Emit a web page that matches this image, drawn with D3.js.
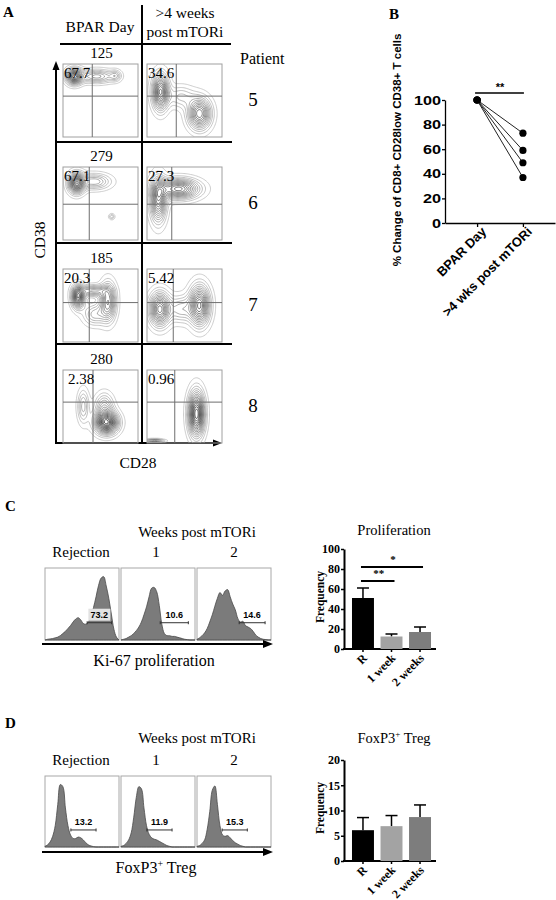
<!DOCTYPE html>
<html><head><meta charset="utf-8">
<script src="https://cdn.jsdelivr.net/npm/d3@7"></script>
<style>
body{margin:0;background:#fff;}
svg{display:block;}
</style></head><body>
<svg id="c" width="556" height="900"></svg>
<script>
// ---------------- DATA ----------------
// Panel A
const patients = ["5","6","7","8"];
const eventCounts = ["125","279","185","280"];
const bparPct = ["67.7","67.1","20.3","2.38"];
const postPct = ["34.6","27.3","5.42","0.96"];
// quadrant gates (fraction of CD28 axis / CD38 axis from top) per row: [BPAR, post]
const quadX = [[0.39,0.39],[0.35,0.33],[0.35,0.35],[0.40,0.37]];
const quadY = [0.44,0.51,0.46,0.44];
// density blobs [cx, cy(from top), sx, sy, weight]
const blobsBpar = [
  [[0.15,0.17,0.07,0.07,1.1],[0.45,0.17,0.15,0.06,0.55],[0.70,0.16,0.05,0.05,0.3]],
  [[0.18,0.22,0.07,0.09,1.1],[0.42,0.20,0.14,0.07,0.5],[0.65,0.68,0.025,0.025,0.28]],
  [[0.20,0.38,0.055,0.10,1.1],[0.60,0.45,0.07,0.17,0.8],[0.40,0.30,0.12,0.05,0.6],[0.42,0.62,0.10,0.10,0.4]],
  [[0.27,0.50,0.05,0.15,0.4],[0.58,0.72,0.10,0.10,1.3],[0.55,0.50,0.08,0.12,0.45]]
];
const blobsPost = [
  [[0.18,0.38,0.07,0.16,1.05],[0.70,0.68,0.10,0.14,0.95],[0.45,0.45,0.12,0.10,0.3]],
  [[0.42,0.30,0.18,0.09,1.0],[0.15,0.45,0.07,0.20,0.9]],
  [[0.17,0.55,0.09,0.15,1.0],[0.70,0.50,0.09,0.18,1.05],[0.45,0.55,0.10,0.12,0.4]],
  [[0.66,0.60,0.07,0.20,1.25],[0.10,0.97,0.08,0.015,0.7]]
];
// Panel B
const bCats = ["BPAR Day", ">4 wks post mTORi"];
const bBpar = [100,100,100,100];
const bPost = [73,59,49,37];
const bTicks = [0,20,40,60,80,100];
// Panel C / D histograms (relative cell counts along the fluorescence axis)
const histLabels = ["Rejection","1","2"];
const kiGateVals = ["73.2","10.6","14.6"];
const kiGates = [[0.57,0.90],[0.53,0.91],[0.57,0.92]];
const kiHist = [
  [0,0.01,0.015,0.02,0.03,0.04,0.06,0.09,0.12,0.16,0.2,0.25,0.29,0.31,0.28,0.23,0.22,0.25,0.32,0.45,0.6,0.76,0.86,0.88,0.75,0.58,0.36,0.15,0.04,0],
  [0,0.01,0.02,0.04,0.06,0.09,0.13,0.18,0.25,0.35,0.46,0.6,0.72,0.73,0.67,0.48,0.22,0.09,0.06,0.06,0.05,0.05,0.04,0.03,0.02,0.01,0.005,0,0,0],
  [0.01,0.03,0.06,0.1,0.16,0.25,0.35,0.47,0.58,0.66,0.62,0.68,0.7,0.6,0.5,0.42,0.3,0.25,0.26,0.2,0.18,0.16,0.12,0.07,0.04,0.02,0.01,0.005,0,0]
];
const foxGateVals = ["13.2","11.9","15.3"];
const foxGates = [[0.35,0.69],[0.35,0.69],[0.34,0.68]];
const foxHist = [
  [0.01,0.03,0.07,0.15,0.3,0.6,0.88,0.85,0.55,0.3,0.17,0.12,0.12,0.14,0.13,0.1,0.06,0.03,0.015,0.005,0,0,0,0,0,0,0,0,0,0],
  [0.01,0.02,0.05,0.1,0.2,0.42,0.7,0.85,0.82,0.55,0.3,0.18,0.13,0.11,0.1,0.08,0.06,0.04,0.02,0.01,0,0,0,0,0,0,0,0,0,0],
  [0.01,0.02,0.05,0.1,0.25,0.5,0.8,0.86,0.6,0.3,0.17,0.15,0.16,0.13,0.09,0.06,0.04,0.02,0.01,0,0,0,0,0,0,0,0,0,0,0]
];
// Bar charts
const barCats = ["R","1 week","2 weeks"];
const prolMean = [51,12.5,17];
const prolSem = [10,2.5,5];
const prolTicks = [0,20,40,60,80,100];
const foxMean = [6.1,6.9,8.7];
const foxSem = [2.5,2.1,2.4];
const foxTicks = [0,5,10,15,20];
const barColors = ["#000000","#a3a3a3","#7d7d7d"];

// ---------------- DRAW ----------------
const svg = d3.select("#c");
const SERIF = '"Liberation Serif","Times New Roman",serif';
const SANS = '"Liberation Sans",Arial,sans-serif';
function txt(g,x,y,s,size,opt={}){
  return g.append("text").attr("x",x).attr("y",y).text(s)
    .attr("font-family",opt.fam||SERIF).attr("font-size",size)
    .attr("font-weight",opt.w||"normal").attr("text-anchor",opt.a||"start")
    .attr("fill",opt.fill||"#000");
}
function arrowHead(g,x,y,dir,len=9,half=3.5){
  let pts;
  if(dir==="up") pts=[[x,y],[x-half,y+len],[x+half,y+len]];
  else pts=[[x,y],[x-len,y-half],[x-len,y+half]];
  g.append("path").attr("d",d3.line()(pts)+"Z").attr("fill","#000");
}

// panel letters
txt(svg,3,17,"A",15,{w:"bold"});
txt(svg,389,19,"B",15,{w:"bold"});
txt(svg,5,511,"C",15,{w:"bold"});
txt(svg,5,728,"D",15,{w:"bold"});

// ===== Panel A =====
const A = svg.append("g");
txt(A,100,32,"BPAR Day",15.5,{a:"middle"});
txt(A,185,18,">4 weeks",15.5,{a:"middle"});
txt(A,185,37,"post mTORi",15.5,{a:"middle"});
txt(A,240,64,"Patient",16);
A.append("line").attr("x1",60).attr("x2",231).attr("y1",44).attr("y2",44).attr("stroke","#000").attr("stroke-width",2);
[142,243,344].forEach(y=>A.append("line").attr("x1",57).attr("x2",232).attr("y1",y).attr("y2",y).attr("stroke","#000").attr("stroke-width",2));
A.append("line").attr("x1",142).attr("x2",142).attr("y1",5).attr("y2",443).attr("stroke","#000").attr("stroke-width",2);
// axes arrows
A.append("line").attr("x1",56).attr("x2",56).attr("y1",70).attr("y2",444).attr("stroke","#000").attr("stroke-width",2);
arrowHead(A,56,61,"up");
A.append("line").attr("x1",55).attr("x2",214).attr("y1",443).attr("y2",443).attr("stroke","#000").attr("stroke-width",2);
arrowHead(A,222,443,"right");
txt(A,138,468,"CD28",15.5,{a:"middle"});
A.append("text").attr("transform","translate(45,240) rotate(-90)").attr("text-anchor","middle")
  .attr("font-family",SERIF).attr("font-size",15.5).text("CD38");

const boxTops = [64,167,269,370];
const boxH = 73, boxW = 75;
const colX = [63,147];
const nGrid = 64;
const levels = d3.range(0.06,1.35,0.075);
const lvlColor = d3.scaleLinear().domain([0.06,0.6,1.3]).range(["#b8b8b8","#6a6a6a","#151515"]);
let clipId=0;
function contourPanel(g,x0,y0,w,h,bl,qx,qy){
  const vals = new Float64Array(nGrid*nGrid);
  for(let j=0;j<nGrid;j++)for(let i=0;i<nGrid;i++){
    const px=(i+0.5)/nGrid, py=(j+0.5)/nGrid; let v=0;
    for(const [cx,cy,sx,sy,wt] of bl) v+=wt*Math.exp(-((px-cx)**2/(2*sx*sx)+(py-cy)**2/(2*sy*sy)));
    vals[j*nGrid+i]=v;
  }
  const cs = d3.contours().size([nGrid,nGrid]).thresholds(levels)(vals);
  const id="clp"+(clipId++);
  g.append("clipPath").attr("id",id).append("rect").attr("x",x0).attr("y",y0).attr("width",w).attr("height",h);
  const cg = g.append("g").attr("clip-path",`url(#${id})`)
    .append("g").attr("transform",`translate(${x0},${y0}) scale(${w/nGrid},${h/nGrid})`);
  cg.selectAll("path").data(cs).join("path").attr("d",d3.geoPath())
    .attr("fill","none").attr("stroke",d=>lvlColor(d.value)).attr("stroke-width",0.7)
    .attr("vector-effect","non-scaling-stroke");
  g.append("rect").attr("x",x0).attr("y",y0).attr("width",w).attr("height",h)
    .attr("fill","none").attr("stroke","#a0a0a0").attr("stroke-width",1);
  const sx=d3.scaleLinear([0,1],[x0,x0+w]), sy=d3.scaleLinear([0,1],[y0,y0+h]);
  g.append("line").attr("x1",sx(qx)).attr("x2",sx(qx)).attr("y1",y0).attr("y2",y0+h).attr("stroke","#6e6e6e").attr("stroke-width",1);
  g.append("line").attr("x1",x0).attr("x2",x0+w).attr("y1",sy(qy)).attr("y2",sy(qy)).attr("stroke","#6e6e6e").attr("stroke-width",1);
}
patients.forEach((p,r)=>{
  const y0=boxTops[r];
  contourPanel(A,colX[0],y0,boxW,boxH,blobsBpar[r],quadX[r][0],quadY[r]);
  contourPanel(A,colX[1],y0,boxW,boxH,blobsPost[r],quadX[r][1],quadY[r]);
  txt(A,colX[0]+boxW/2+1,y0-6,eventCounts[r],15,{a:"middle"});
  txt(A,colX[0]+(r===3?5:1),y0+14,bparPct[r],15);
  txt(A,colX[1]+1,y0+14,postPct[r],15);
  txt(A,253,y0+boxH/2+5,p,19,{a:"middle"});
});

// ===== Panel B =====
const B = svg.append("g");
const yB = d3.scaleLinear([0,100],[223,100]);
const xB = d3.scalePoint(bCats,[445,555]).padding(0.7);
const axB = B.append("g").attr("transform","translate(445,0)")
  .call(d3.axisLeft(yB).tickValues(bTicks).tickSize(3).tickPadding(2).tickSizeOuter(0));
axB.select(".domain").attr("stroke-width",1.3);
axB.selectAll(".tick line").attr("stroke-width",1.3);
axB.selectAll("text").attr("font-family",SANS).attr("font-weight","bold").attr("font-size",12.5)
  .attr("x",-4/1.3).attr("transform","scale(1.3,1)");
const axBx = B.append("g").attr("transform","translate(0,223)")
  .call(d3.axisBottom(xB).tickSize(4).tickSizeOuter(0));
axBx.select(".domain").attr("stroke-width",1.3);
axBx.selectAll(".tick line").attr("stroke-width",1.3);
axBx.selectAll("text").attr("font-family",SANS).attr("font-weight","bold").attr("font-size",13)
  .attr("text-anchor","end").attr("transform","translate(3,3) rotate(-45)").attr("dy","0.7em").attr("y",0);
bBpar.forEach((v,i)=>{
  B.append("line").attr("x1",xB(bCats[0])).attr("y1",yB(v)).attr("x2",xB(bCats[1])).attr("y2",yB(bPost[i]))
    .attr("stroke","#222").attr("stroke-width",1);
});
[...bBpar.map(v=>[bCats[0],v]),...bPost.map(v=>[bCats[1],v])].forEach(([c,v])=>{
  B.append("circle").attr("cx",xB(c)).attr("cy",yB(v)).attr("r",3.6).attr("fill","#000");
});
B.append("line").attr("x1",xB(bCats[0])-2).attr("x2",xB(bCats[1])+1).attr("y1",93).attr("y2",93).attr("stroke","#000").attr("stroke-width",1.3);
txt(B,(xB(bCats[0])+xB(bCats[1]))/2,91,"**",11,{fam:SANS,w:"bold",a:"middle"});
B.append("text").attr("transform","translate(401,150) rotate(-90)").attr("text-anchor","middle")
  .attr("font-family",SANS).attr("font-weight","bold").attr("font-size",11.5)
  .text("% Change of CD8+ CD28low CD38+ T cells");

// ===== Histogram rows =====
function histRow(g,top,h,gateVals,gates,hists,titleY,labY,axisY,labelBg){
  txt(g,197,titleY,"Weeks post mTORi",15,{a:"middle"});
  const labX=[81,156,234];
  histLabels.forEach((l,i)=>txt(g,labX[i],labY,l,15,{a:"middle"}));
  const bx=[45,121,197], bw=74;
  hists.forEach((hv,i)=>{
    const x0=bx[i];
    const sx=d3.scaleLinear([0,hv.length-1],[x0,x0+bw]);
    const gx=d3.scaleLinear([0,1],[x0,x0+bw]);
    const sy=d3.scaleLinear([0,1],[top+h,top]);
    g.append("rect").attr("x",x0).attr("y",top).attr("width",bw).attr("height",h).attr("fill","#fff").attr("stroke","#a8a8a8").attr("stroke-width",1);
    g.append("path").datum(hv).attr("d",d3.area().x((d,k)=>sx(k)).y0(sy(0)).y1(d=>sy(d)).curve(d3.curveCatmullRom))
      .attr("fill","#7b7b7b").attr("stroke","#4a4a4a").attr("stroke-width",0.8);
    const gy=sy(0.24);
    const lx=(gx(gates[i][0])+gx(gates[i][1]))/2;
    if(labelBg && i===0){
      g.append("rect").attr("x",lx-11).attr("y",gy-14).attr("width",22).attr("height",12).attr("fill","#e2e2e2");
    }
    g.append("line").attr("x1",gx(gates[i][0])).attr("x2",gx(gates[i][1])).attr("y1",gy).attr("y2",gy).attr("stroke","#333").attr("stroke-width",1);
    [gates[i][0],gates[i][1]].forEach(v=>g.append("line").attr("x1",gx(v)).attr("x2",gx(v)).attr("y1",gy-1.5).attr("y2",gy+1.5).attr("stroke","#333"));
    txt(g,lx,gy-5,gateVals[i],9,{fam:SANS,w:"bold",a:"middle"});
  });
  g.append("line").attr("x1",42).attr("x2",264).attr("y1",axisY).attr("y2",axisY).attr("stroke","#000").attr("stroke-width",2);
  arrowHead(g,273,axisY,"right",10,4);
  return g;
}
const C = svg.append("g");
histRow(C,568,72,kiGateVals,kiGates,kiHist,537,557,644,true);
txt(C,154,666,"Ki-67 proliferation",16,{a:"middle"});
const D = svg.append("g");
histRow(D,776,71,foxGateVals,foxGates,foxHist,743,765,852,false);
const fx = txt(D,156,873,"",16,{a:"middle"});
fx.append("tspan").text("FoxP3");
fx.append("tspan").attr("font-size",10).attr("dy",-6).text("+");
fx.append("tspan").attr("dy",6).text(" Treg");

// ===== Bar charts =====
const xBar = d3.scaleBand(barCats,[346,437]).paddingInner(0.23).paddingOuter(0.21);
function barChart(g,y,ticks,means,sems,title,titleY,freqY,sig){
  const tt = txt(g,394,titleY,"",14.5,{a:"middle"});
  if(title==="fox"){tt.append("tspan").text("FoxP3");tt.append("tspan").attr("font-size",9).attr("dy",-6).text("+");tt.append("tspan").attr("dy",6).text(" Treg");}
  else tt.text(title);
  const ax=g.append("g").attr("transform","translate(344,0)")
    .call(d3.axisLeft(y).tickValues(ticks).tickSize(3).tickPadding(1).tickSizeOuter(0));
  ax.select(".domain").attr("stroke-width",2);
  ax.selectAll(".tick line").attr("stroke-width",1.5);
  ax.selectAll("text").attr("font-family",SERIF).attr("font-weight","bold").attr("font-size",12);
  const y0=y(0);
  g.append("line").attr("x1",343).attr("x2",436).attr("y1",y0).attr("y2",y0).attr("stroke","#000").attr("stroke-width",2);
  barCats.forEach((c,i)=>{
    const cx=xBar(c)+xBar.bandwidth()/2;
    g.append("line").attr("x1",cx).attr("x2",cx).attr("y1",y(means[i])).attr("y2",y(means[i]+sems[i])).attr("stroke","#000").attr("stroke-width",1.5);
    g.append("line").attr("x1",cx-6).attr("x2",cx+6).attr("y1",y(means[i]+sems[i])).attr("y2",y(means[i]+sems[i])).attr("stroke","#000").attr("stroke-width",1.5);
    g.append("rect").attr("x",xBar(c)).attr("y",y(means[i])).attr("width",xBar.bandwidth()).attr("height",y0-y(means[i]))
      .attr("fill",barColors[i]);
    g.append("line").attr("x1",cx).attr("x2",cx).attr("y1",y0).attr("y2",y0+3).attr("stroke","#000").attr("stroke-width",1.5);
    g.append("text").attr("transform",`translate(${cx+1},${y0+6}) rotate(-45)`).attr("text-anchor","end").attr("dy","0.45em")
      .attr("font-family",SERIF).attr("font-weight","bold").attr("font-size",12).text(c);
  });
  g.append("text").attr("transform",`translate(324,${freqY}) rotate(-90)`).attr("text-anchor","middle")
    .attr("font-family",SERIF).attr("font-weight","bold").attr("font-size",11.5).text("Frequency");
  if(sig){
    const c0=xBar(barCats[0])+xBar.bandwidth()/2;
    [[1,581,"**"],[2,567,"*"]].forEach(([j,yy,s])=>{
      const c1=xBar(barCats[j])+xBar.bandwidth()/2+3;
      g.append("line").attr("x1",c0-2).attr("x2",c1).attr("y1",yy).attr("y2",yy).attr("stroke","#000").attr("stroke-width",2);
      txt(g,(c0+c1)/2,yy-4,s,11,{w:"bold",a:"middle"});
    });
  }
}
barChart(svg.append("g"),d3.scaleLinear([0,100],[649,549]),prolTicks,prolMean,prolSem,"Proliferation",535,597,true);
barChart(svg.append("g"),d3.scaleLinear([0,20],[861,760]),foxTicks,foxMean,foxSem,"fox",743,808,false);
</script>
</body></html>
